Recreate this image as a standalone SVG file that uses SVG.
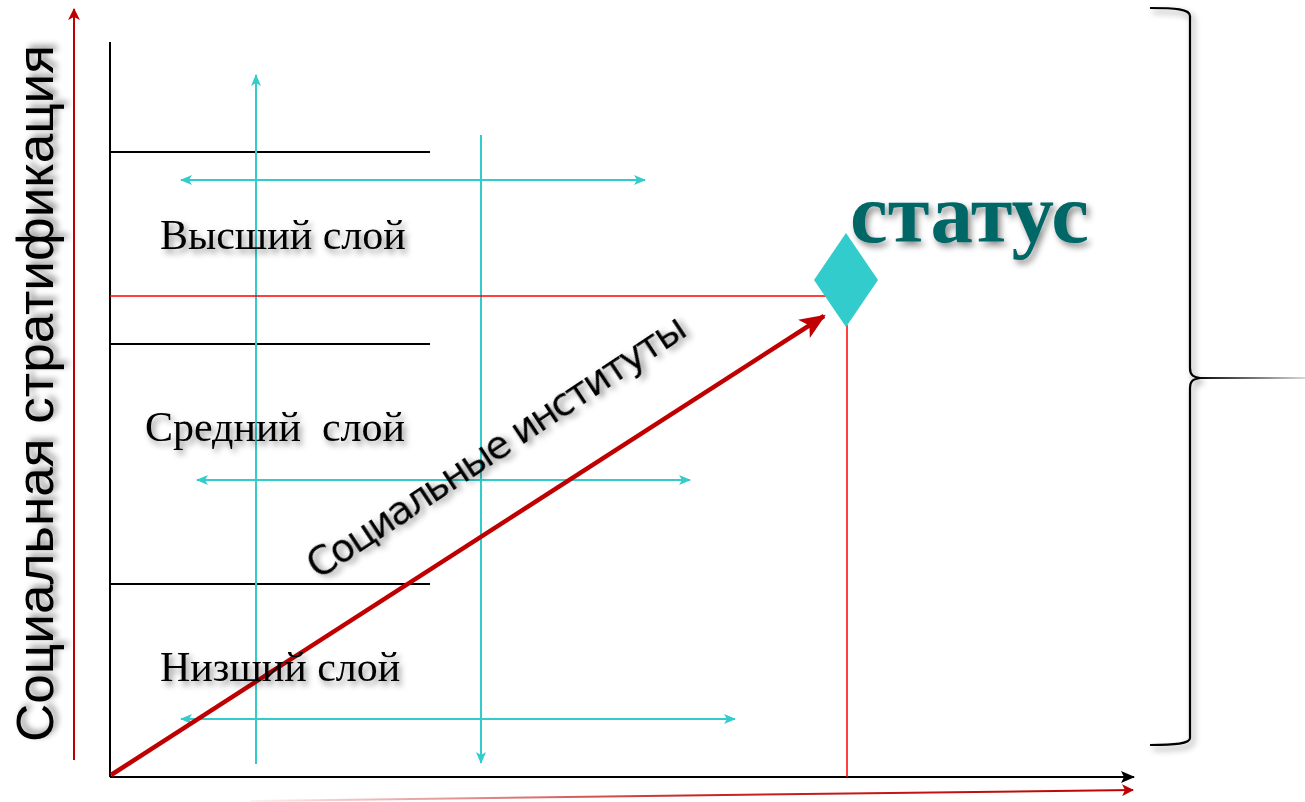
<svg xmlns="http://www.w3.org/2000/svg" width="1305" height="802" viewBox="0 0 1305 802">
<style>
.ser{font-family:"Liberation Serif","Times New Roman",serif;font-size:42px;fill:#000;white-space:pre}
.teal{stroke:#33CCCC;stroke-width:2;fill:none}
.blk{stroke:#000;stroke-width:2;fill:none}
.red{stroke:#FF0000;stroke-width:1.5;fill:none}
</style>
<defs>
<filter id="sh" x="-20%" y="-40%" width="140%" height="180%">
<feDropShadow dx="3" dy="4" stdDeviation="3" flood-color="#000" flood-opacity="0.45"/>
</filter>
<marker id="ta" viewBox="0 0 12 10" refX="11" refY="5" markerWidth="12" markerHeight="10" markerUnits="userSpaceOnUse" orient="auto-start-reverse">
<path d="M0,0 L12,5 L0,10 L3,5 Z" fill="#33CCCC"/>
</marker>
<marker id="ra" viewBox="0 0 12 12" refX="11" refY="6" markerWidth="12" markerHeight="12" markerUnits="userSpaceOnUse" orient="auto">
<path d="M0,0 L12,6 L0,12 L3,6 Z" fill="#C00000"/>
</marker>
<marker id="rbig" viewBox="0 0 24 20" refX="22" refY="10" markerWidth="26" markerHeight="22" markerUnits="userSpaceOnUse" orient="auto">
<path d="M0,0 L24,10 L0,20 L6,10 Z" fill="#C00000"/>
</marker>
<marker id="ba" viewBox="0 0 14 12" refX="13" refY="6" markerWidth="14" markerHeight="12" markerUnits="userSpaceOnUse" orient="auto">
<path d="M0,0 L14,6 L0,12 L3,6 Z" fill="#000"/>
</marker>
<linearGradient id="rg" x1="250" y1="0" x2="1135" y2="0" gradientUnits="userSpaceOnUse">
<stop offset="0" stop-color="#C00000" stop-opacity="0.05"/>
<stop offset="0.5" stop-color="#C00000" stop-opacity="0.85"/>
<stop offset="1" stop-color="#C00000"/>
</linearGradient>
<linearGradient id="bg" x1="1195" y1="0" x2="1305" y2="0" gradientUnits="userSpaceOnUse">
<stop offset="0" stop-color="#000"/>
<stop offset="1" stop-color="#000" stop-opacity="0.15"/>
</linearGradient>
</defs>
<rect width="1305" height="802" fill="#fff"/>

<g id="connectors">
<line x1="74" y1="760" x2="74" y2="9" stroke="#C00000" stroke-width="2" marker-end="url(#ra)"/>
<line x1="110" y1="42" x2="110" y2="777" class="blk"/>
<line x1="110" y1="777" x2="1134" y2="777" class="blk" marker-end="url(#ba)"/>
<line x1="862" y1="775.5" x2="1020" y2="775.5" stroke="#000" stroke-width="3" filter="url(#sh)"/>
<path d="M250,801 L1133,790" stroke="url(#rg)" stroke-width="2" fill="none" marker-end="url(#ra)"/>
<line x1="110" y1="152" x2="430" y2="152" class="blk"/>
<line x1="110" y1="344" x2="430" y2="344" class="blk"/>
<line x1="110" y1="584" x2="430" y2="584" class="blk"/>
<line x1="256" y1="764" x2="256" y2="75" class="teal" marker-end="url(#ta)"/>
<line x1="481" y1="135" x2="481" y2="763" class="teal" marker-end="url(#ta)"/>
<line x1="181" y1="180" x2="645" y2="180" class="teal" marker-start="url(#ta)" marker-end="url(#ta)"/>
<line x1="197" y1="480" x2="690" y2="480" class="teal" marker-start="url(#ta)" marker-end="url(#ta)"/>
<line x1="181" y1="719" x2="735" y2="719" class="teal" marker-start="url(#ta)" marker-end="url(#ta)"/>
<line x1="110" y1="296" x2="830" y2="296" class="red"/>
<line x1="847" y1="325" x2="847" y2="777" class="red"/>
<line x1="111" y1="775" x2="824" y2="316" stroke="#C00000" stroke-width="4.5" marker-end="url(#rbig)"/>
<path d="M1150,8 C1175,8 1190,9 1190,16 L1190,368 C1190,375 1193,377 1200,378 C1193,379 1190,381 1190,388 L1190,738 C1190,744 1175,745 1150,745" stroke="#000" stroke-width="2.2" fill="none" filter="url(#sh)"/>
<line x1="1198" y1="378" x2="1305" y2="378" stroke="url(#bg)" stroke-width="2"/>
</g>

<g id="status-node">
<polygon points="846,233 878,280 846,327 814,280" fill="#33CCCC"/>
<text x="850" y="242" font-family="Liberation Serif,'Times New Roman',serif" font-weight="bold" font-size="85" fill="#006666" filter="url(#sh)">статус</text>
</g>
<g id="layer-high"><text class="ser" x="160" y="249" filter="url(#sh)">Высший слой</text></g>
<g id="layer-mid"><text class="ser" x="145" y="441" filter="url(#sh)">Средний  слой</text></g>
<g id="layer-low"><text class="ser" x="160" y="681" filter="url(#sh)">Низший слой</text></g>
<g id="label-strat">
<text transform="translate(53,742) rotate(-90)" font-family="'Liberation Sans',Arial,sans-serif" font-size="52" textLength="697" lengthAdjust="spacingAndGlyphs" fill="#000" filter="url(#sh)">Социальная стратификация</text>
</g>
<g id="label-inst">
<text transform="translate(318,580) rotate(-33.5)" font-family="'DejaVu Sans',Verdana,sans-serif" font-size="39" letter-spacing="-2.2" fill="#000" filter="url(#sh)">Социальные институты</text>
</g>
</svg>
